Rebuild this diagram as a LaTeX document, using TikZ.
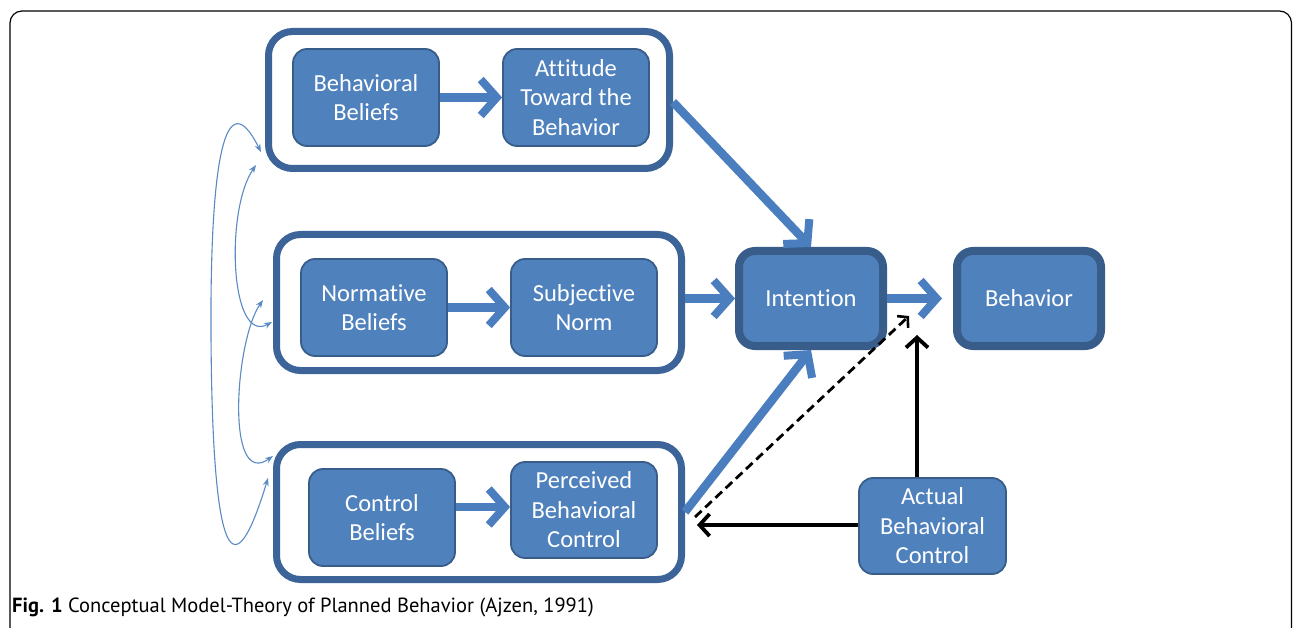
\documentclass[tikz,border=0pt]{standalone}
\usepackage{fontspec}
\setmainfont{Carlito}[Ligatures={NoCommon,NoContextual}, RawFeature={-liga,-dlig,-clig}]
\newfontfamily\capfont{PT Sans}
\usetikzlibrary{arrows.meta}
\definecolor{boxfill}{HTML}{4F81BD}
\definecolor{boxline}{HTML}{385D8A}
\definecolor{grpline}{HTML}{3C6499}
\definecolor{flow}{HTML}{4A7EBF}
\definecolor{link}{HTML}{5A8AC6}
% separate letter pairs that the font would otherwise join
\newcommand\apart{\kern0pt}
\begin{document}
\begin{tikzpicture}[x=1pt,y=-1pt,
  label text/.style={text=white, align=center, font=\fontsize{24.5}{29.5}\selectfont},
  inner/.style={label text, draw=boxline, line width=1.8pt, fill=boxfill,
    rounded corners=14pt, inner sep=0pt, minimum width=146pt, minimum height=97pt},
  group/.style={draw=grpline, line width=7pt, rounded corners=24pt, inner sep=0pt},
  core/.style={label text, draw=boxline, line width=8pt, fill=boxfill,
    rounded corners=16pt, inner sep=0pt, minimum width=144pt, minimum height=95pt},
  outcome/.style={label text, draw=boxline, line width=1.8pt, fill=boxfill,
    rounded corners=14pt, inner sep=0pt, minimum width=147pt, minimum height=96pt},
  flowarrow/.style={draw=flow, line width=8.5pt,
    -{Straight Barb[length=16pt,width=36pt,line width=8pt]}},
  blackarrow/.style={draw=black, line width=3.8pt,
    -{Straight Barb[length=10pt,width=22pt,line width=3.8pt]}},
  dasharrow/.style={draw=black, line width=2.8pt, dash pattern=on 9pt off 5pt,
    -{Straight Barb[length=7pt,width=16pt,line width=2.6pt]}},
  linkarrow/.style={draw=link, line width=1.1pt,
    {Stealth[length=8pt,width=6pt]}-{Stealth[length=8pt,width=6pt]}}
]
\useasboundingbox (0,0) rectangle (1293,628);
\fill[white] (0,0) rectangle (1293,628);
\begin{scope}
  \clip (0,0) rectangle (1293,628);
  \draw[line width=1.2pt, rounded corners=12pt] (10,700) -- (10,11) -- (1291.5,11) -- (1291.5,700);
\end{scope}

% groups of belief boxes
\node[group, minimum width=401pt, minimum height=137pt] (g1) at (469,100) {};
\node[group, minimum width=405pt, minimum height=136pt] (g2) at (479,302.5) {};
\node[group, minimum width=405pt, minimum height=135pt] (g3) at (479,512) {};

\node[inner] (bb)  at (366,97.5) {Behavioral\\Beliefs};
\node[inner] (att) at (576,97.5) {At\apart t\apart itude\\Toward the\\Behavior};
\node[inner] (nb)  at (374,307.5) {Normat\apart ive\\Beliefs};
\node[inner] (sn)  at (584,307.5) {Subject\apart ive\\Norm};
\node[inner] (cb)  at (382,517.5) {Control\\Beliefs};
\node[inner, minimum height=96pt] (pbc) at (584,510) {Perceived\\Behavioral\\Control};

\node[core] (int) at (811,298.5) {Intent\apart ion};
\node[core] (beh) at (1029,298.5) {Behavior};
\node[outcome] (abc) at (932.5,526) {Actual\\Behavioral\\Control};

% free ends
\coordinate (meet) at (909,316);
\coordinate (up)   at (917,335);
\coordinate (back) at (697,525);
\coordinate (dstart) at (695,517);

\coordinate (a1) at (261,152);
\coordinate (a3) at (268,478);
\coordinate (b1) at (256,165);
\coordinate (b2) at (272,322);
\coordinate (c2) at (263,300);
\coordinate (c3) at (273,456);

% flows
\draw[flowarrow] (bb) -- (att);
\draw[flowarrow] (nb) -- (sn);
\draw[flowarrow] (cb.east |- pbc.west) ++(0,-3) coordinate (cbo) -- (pbc.west |- cbo);
\draw[flowarrow] (g1.east) ++(0,2) -- (int.north);
\draw[flowarrow] (g2.east |- int.west) -- (int.west);
\draw[flowarrow] (g3.east) -- (int.south);
\draw[flowarrow, shorten >=11pt] (int.east) -- (beh.west);

\draw[dasharrow] (dstart) -- (meet);
\draw[blackarrow] (abc.north -| up) -- (up);
\draw[blackarrow] (abc.west |- back) -- (back);

% correlations between the belief groups
\draw[linkarrow] (a1) .. controls (225,80) and (210,160) .. (211,335)
                      .. controls (212,510) and (225,620) .. (a3);
\draw[linkarrow] (b1) .. controls (225,210) and (230,345) .. (b2);
\draw[linkarrow] (c2) .. controls (235,340) and (225,490) .. (c3);

% caption
\node[anchor=base west, inner sep=0pt, font=\capfont\fontsize{20.5}{24}\selectfont] (cap) at (12,612)
  {\textbf{Fig. 1} Conceptual Model-Theory of Planned Behavior (Ajzen, 1991)};
\end{tikzpicture}
\end{document}
